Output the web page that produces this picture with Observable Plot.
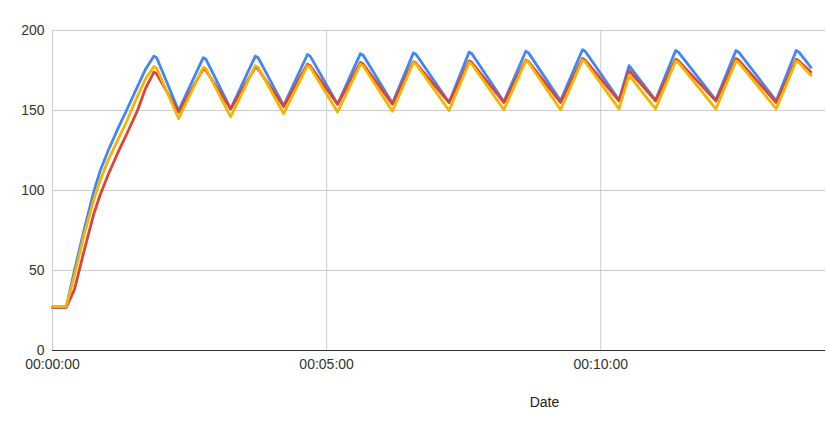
<!DOCTYPE html>
<html><head><meta charset="utf-8">
<script src="https://cdn.jsdelivr.net/npm/d3@7"></script>
<script src="https://cdn.jsdelivr.net/npm/@observablehq/plot@0.6"></script>
<style>
html,body{margin:0;padding:0;background:#fff;}
#chart svg{display:block;}
</style>
</head><body><div id="chart"></div>
<script>
// time in seconds since start
const seconds = [0,15,24,34,45,52,61,71,81,93,102,111,114,138,165,168,195,222,225,253,279,282,312,337,340,372,395,398,434,456,459,494,518,521,556,580,583,620,631,660,682,685,726,748,751,792,814,817,830];
const seriesBlue = [27,27,50,74,99,112,125,138,150,165,176,184,183,150,183,182,151,184,183,153,185,184,154,185.5,184.5,154.5,186,185,155,186.5,185.5,155.5,187,186,156,188,187,156.5,178,156.5,187.5,186.5,156.5,187.5,186.5,156,187.5,186.5,177];
const seriesRed = [27,27,38,61,85,97,110,123,135,150,164,174,173,149,176,175,151,177,176,152.5,179,178,154,180,179,154,180.5,179.5,155,181,180,155,181.5,180.5,155,182.5,181.5,156,175,156,182,181,156,182.5,181.5,155,182,181,174];
const seriesYellow = [27.5,27.5,47,71,94,106,119,131,143,159,170,177.5,176.5,145,177,176,146,178,177,148,178,177,149,179,178,149.5,180,179,150,180,179,150.5,181,180,150.5,181.5,180.5,151,172,151,181,180,151,181,180,151,181,180,172];
const seriesNames = ["Series 1","Series 2","Series 3"];
const seriesColors = ["#4285f4","#db4437","#f4b400"];
const yTicks = [0,50,100,150,200];
const xTicks = [0,300,600];
const xTitle = "Date";

const allSeries = [seriesBlue, seriesRed, seriesYellow];
const rows = allSeries.flatMap((vals, i) => vals.map((v, j) => ({t: seconds[j], v, series: seriesNames[i]})));

const fmt = s => {
  const h = Math.floor(s / 3600), m = Math.floor((s % 3600) / 60), sec = s % 60;
  return [h, m, sec].map(d => String(d).padStart(2, "0")).join(":");
};

const chart = Plot.plot({
  width: 826,
  height: 425,
  marginLeft: 52,
  marginRight: 1,
  marginTop: 30,
  marginBottom: 75,
  style: {fontFamily: "Arial, 'Liberation Sans', sans-serif", fontSize: "14px", color: "#333", background: "#fff"},
  x: {domain: [0, 846]},
  y: {domain: [0, 200]},
  color: {domain: seriesNames, range: seriesColors},
  marks: [
    Plot.gridY(yTicks.filter(d => d > 0), {stroke: "#cccccc", strokeOpacity: 1}),
    Plot.gridX(xTicks, {stroke: "#cccccc", strokeOpacity: 1}),
    Plot.ruleY([0], {stroke: "#333333", strokeWidth: 1}),
    Plot.line(rows, {x: "t", y: "v", z: "series", stroke: "series", strokeWidth: 2.8, strokeLinejoin: "round", strokeLinecap: "round"}),
    Plot.axisY(yTicks, {tickSize: 0, tickPadding: 8, label: null, fill: "#333"}),
    Plot.axisX(xTicks, {tickSize: 0, tickPadding: 9, tickFormat: fmt, label: null, fill: "#333"}),
    Plot.text([xTitle], {frameAnchor: "bottom-left", dx: 492, dy: 52, textAnchor: "middle", lineAnchor: "middle", fontSize: 14, fill: "#222"})
  ]
});
document.getElementById("chart").appendChild(chart);
</script>
</body></html>
